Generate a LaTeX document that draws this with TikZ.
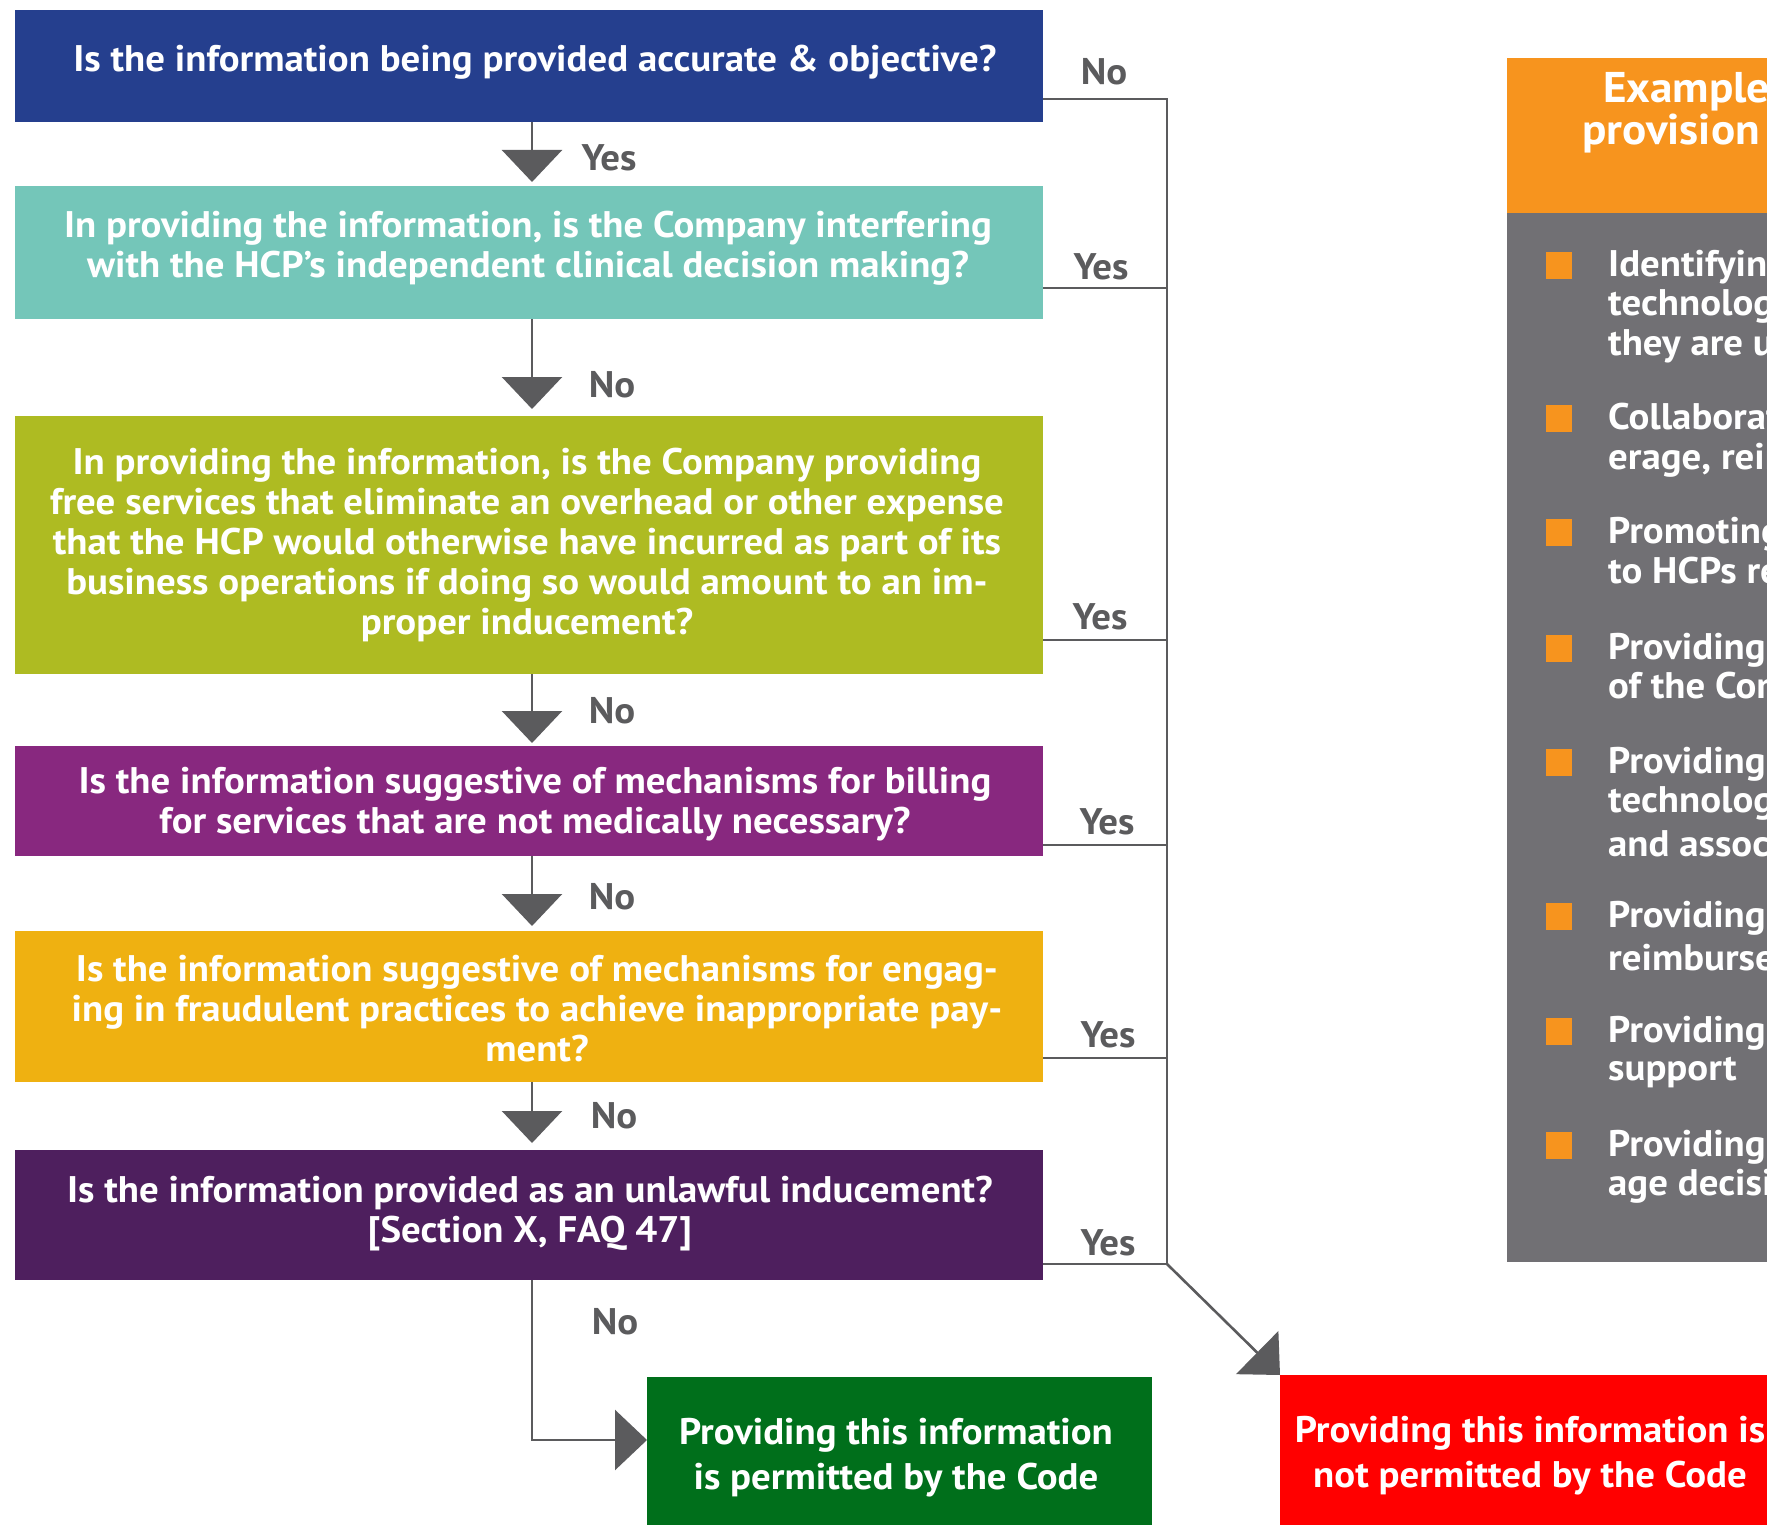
\documentclass[tikz,border=0pt]{standalone}
\usepackage{fontspec}
\setmainfont{PT Sans}[FakeStretch=1.05]
\usetikzlibrary{arrows.meta}
\definecolor{cblue}{HTML}{253F8E}
\definecolor{cteal}{HTML}{74C6B9}
\definecolor{colive}{HTML}{AEBB22}
\definecolor{cpurple}{HTML}{88287F}
\definecolor{camber}{HTML}{EFB111}
\definecolor{cplum}{HTML}{4E1F5E}
\definecolor{cgreen}{HTML}{006F1B}
\definecolor{cred}{HTML}{FF0000}
\definecolor{corange}{HTML}{F7941E}
\definecolor{cpanel}{HTML}{717074}
\definecolor{cline}{HTML}{5B5B5D}
\newcommand\qfont{\fontsize{37}{40}\selectfont\bfseries}
\newcommand\outfont{\fontsize{37}{45}\selectfont\bfseries}
\newcommand\hdfont{\fontsize{43}{42}\selectfont\bfseries}
\begin{document}
\begin{tikzpicture}[x=1pt,y=-1pt,
  qbox/.style={fill=#1,draw=none,inner sep=0,outer sep=0,anchor=north west,minimum width=1028},
  qtext/.style={text=white,align=center,font=\qfont,inner sep=0},
  ans/.style={text=cline,font=\qfont,inner sep=0},
  link/.style={draw=cline,line width=2.6},
  flow/.style={link,-{Triangle[length=32,width=60]}},
  bullet/.style={fill=corange,draw=none,inner sep=0,minimum width=26,minimum height=27,anchor=north west},
  btext/.style={text=white,font=\qfont,inner sep=0,anchor=west}]
\useasboundingbox (0,0) rectangle (1767,1525);
\clip (0,0) rectangle (1767,1525);

% question boxes
\node[qbox=cblue,minimum height=112] (q1) at (15,10) {};
\node[qbox=cteal,minimum height=133] (q2) at (15,186) {};
\node[qbox=colive,minimum height=258] (q3) at (15,416) {};
\node[qbox=cpurple,minimum height=110] (q4) at (15,746) {};
\node[qbox=camber,minimum height=151] (q5) at (15,931) {};
\node[qbox=cplum,minimum height=130] (q6) at (15,1150) {};

\node[qtext] (t1) at (535,62) {Is the information being provided accurate \& objective?};
\node[qtext] (t2) at (528,248) {In providing the information, is the Company interfering\\with the HCP’s independent clinical decision making?};
\node[qtext] (t3) at (527,545) {In providing the information, is the Company providing\\free services that eliminate an overhead or other expense\\that the HCP would otherwise have incurred as part of its\\business operations if doing so would amount to an im-\\proper inducement?};
\node[qtext] (t4) at (535,804) {Is the information suggestive of mechanisms for billing\\for services that are not medically necessary?};
\node[qtext] (t5) at (537,1009) {Is the information suggestive of mechanisms for engag-\\ing in fraudulent practices to achieve inappropriate pay-\\ment?};
\node[qtext] (t6) at (530,1214) {Is the information provided as an unlawful inducement?\\{[Section X, FAQ 47]}};

% outcome boxes
\node[fill=cgreen,inner sep=0,anchor=north west,minimum width=505,minimum height=170] (ok) at (647,1377) {};
\node[fill=cred,inner sep=0,anchor=north west,minimum width=520,minimum height=170] (bad) at (1280,1375) {};
\node[text=white,align=center,font=\outfont,inner sep=0] (okt) at (896,1458) {Providing this information\\is permitted by the Code};
\node[text=white,align=center,font=\outfont,inner sep=0] (badt) at (1530,1456) {Providing this information is\\not permitted by the Code};

% right-hand panel
\node[fill=corange,inner sep=0,anchor=north west,minimum width=400,minimum height=155] (hdr) at (1507,58) {};
\node[fill=cpanel,inner sep=0,anchor=north west,minimum width=400,minimum height=1049] (panel) at (1507,213) {};
\node[text=white,font=\hdfont,inner sep=0,anchor=west] (h1) at (1603,92) {Examples};
\node[text=white,font=\hdfont,inner sep=0,anchor=west] (h2) at (1582,134) {provision};

\foreach \n/\y in {b1/265,b2/418,b3/532,b4/648,b5/762,b6/916,b7/1031,b8/1145}
  \node[bullet] (\n) at (1546,\y-13) {};
\foreach \n/\y/\s in {l1/267/Identifying, l2/306/technology, l3/346/they are used,
    l4/420/Collaborating, l5/460/{erage, reimbursement},
    l6/534/Promoting, l7/574/to HCPs regarding,
    l8/650/Providing, l9/689/of the Company,
    l10/764/Providing, l11/803/technology, l12/844/and associated,
    l13/918/Providing, l14/958/reimbursement,
    l15/1033/Providing, l16/1073/support,
    l17/1147/Providing, l18/1186/age decisions}
  \node[btext] (\n) at (1608,\y) {\s};

% connector positions
\coordinate (ax) at (532,0);
\coordinate (bus) at (1167,0);
\coordinate (y1) at (0,99);
\coordinate (y2) at (0,288);
\coordinate (y3) at (0,640);
\coordinate (y4) at (0,845);
\coordinate (y5) at (0,1058);
\coordinate (y6) at (0,1264);
\coordinate (gy) at (0,1440);

% main downward path
\draw[flow,shorten >=4] (q1.south -| ax) -- (q2.north -| ax);
\draw[flow,shorten >=7] (q2.south -| ax) -- (q3.north -| ax);
\draw[flow,shorten >=3] (q3.south -| ax) -- (q4.north -| ax);
\draw[flow,shorten >=5] (q4.south -| ax) -- (q5.north -| ax);
\draw[flow,shorten >=7] (q5.south -| ax) -- (q6.north -| ax);
\draw[flow] (q6.south -| ax) |- (ok.west |- gy);

% side bus to the outcome that is not permitted
\draw[link] (q1.east |- y1) -- (bus |- y1) -- (bus |- y6);
\draw[link] (q2.east |- y2) -- (bus |- y2);
\draw[link] (q3.east |- y3) -- (bus |- y3);
\draw[link] (q4.east |- y4) -- (bus |- y4);
\draw[link] (q5.east |- y5) -- (bus |- y5);
\draw[link] (q6.east |- y6) -- (bus |- y6);
\draw[flow] (bus |- y6) -- (bad.north west);

% answers
\node[ans] (a1) at (609,158) {Yes};
\node[ans] (a2) at (612,385) {No};
\node[ans] (a3) at (612,711) {No};
\node[ans] (a4) at (612,897) {No};
\node[ans] (a5) at (614,1116) {No};
\node[ans] (a6) at (615,1322) {No};
\node[ans] (r1) at (1104,72) {No};
\node[ans] (r2) at (1101,267) {Yes};
\node[ans] (r3) at (1100,617) {Yes};
\node[ans] (r4) at (1107,822) {Yes};
\node[ans] (r5) at (1108,1035) {Yes};
\node[ans] (r6) at (1108,1243) {Yes};
\end{tikzpicture}
\end{document}
